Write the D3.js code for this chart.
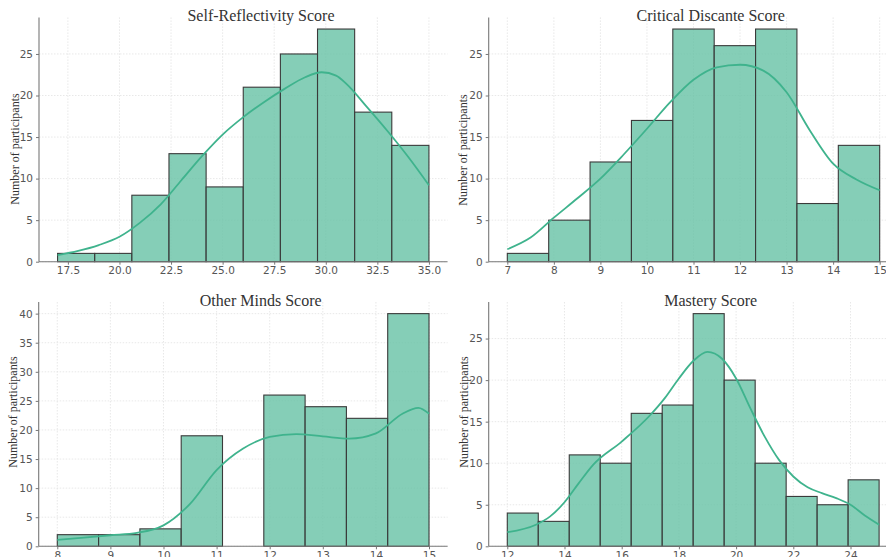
<!DOCTYPE html>
<html>
<head>
<meta charset="utf-8">
<script src="https://cdn.jsdelivr.net/npm/d3@7"></script>
<style>
  html, body { margin: 0; padding: 0; background: #fff; }
  svg { display: block; overflow: hidden; }
</style>
</head>
<body>
<div id="chart"></div>
<script>
// --- data ---
const srCounts = [1, 1, 8, 13, 9, 21, 25, 28, 18, 14];
const srRange = [17, 35];
const srXTicks = [17.5, 20, 22.5, 25, 27.5, 30, 32.5, 35];
const srYTicks = [0, 5, 10, 15, 20, 25];
const srKde = [[17, 0.8], [18, 1.3], [19, 2.0], [20, 3.0], [21, 4.7], [22, 6.9], [23, 9.8], [24, 12.7],
  [25, 15.3], [26, 17.4], [27, 19.2], [28, 20.8], [29, 22.2], [29.8, 22.8], [30.5, 22.4], [31, 21.4],
  [32, 18.6], [33, 15.7], [34, 12.6], [35, 9.2]];

const cdCounts = [1, 5, 12, 17, 28, 26, 28, 7, 14];
const cdRange = [7, 15];
const cdXTicks = [7, 8, 9, 10, 11, 12, 13, 14, 15];
const cdYTicks = [0, 5, 10, 15, 20, 25];
const cdKde = [[7, 1.5], [7.5, 2.9], [8, 5.3], [8.5, 7.6], [9, 10.0], [9.5, 12.9], [10, 16.0], [10.5, 19.2],
  [11, 21.9], [11.5, 23.4], [12, 23.7], [12.5, 23.0], [13, 20.4], [13.5, 15.8], [14, 11.8], [14.5, 9.9], [15, 8.6]];

const omCounts = [2, 2, 3, 19, 0, 26, 24, 22, 40];
const omRange = [8, 15];
const omXTicks = [8, 9, 10, 11, 12, 13, 14, 15];
const omYTicks = [0, 5, 10, 15, 20, 25, 30, 35, 40];
const omKde = [[8, 1.1], [8.5, 1.5], [9, 1.9], [9.5, 2.3], [10, 3.6], [10.5, 7.3], [11, 13.1], [11.5, 16.8],
  [12, 18.8], [12.5, 19.3], [13, 18.9], [13.5, 18.5], [14, 19.4], [14.5, 22.8], [14.8, 23.8], [15, 22.8]];

const maCounts = [4, 3, 11, 10, 16, 17, 28, 20, 10, 6, 5, 8];
const maRange = [12, 25];
const maXTicks = [12, 14, 16, 18, 20, 22, 24];
const maYTicks = [0, 5, 10, 15, 20, 25];
const maKde = [[12, 1.7], [13, 2.6], [13.5, 3.6], [14, 5.3], [14.5, 7.6], [15, 9.8], [16, 12.6], [17, 15.8],
  [17.5, 17.8], [18, 20.2], [18.5, 22.3], [19, 23.4], [19.5, 22.6], [20, 20.2], [20.5, 16.6], [21, 13.2],
  [21.5, 10.4], [22, 8.4], [22.5, 7.1], [23, 6.4], [23.5, 5.8], [24, 5.0], [24.5, 3.7], [25, 2.6]];

const titles = ["Self-Reflectivity Score", "Critical Discante Score", "Other Minds Score", "Mastery Score"];
const yLabel = "Number of participants";

const W = 886, H = 557;
const barFill = "#66c2a5";
const lineColor = "#3fb38d";

const svg = d3.select("#chart").append("svg")
  .attr("width", W).attr("height", H);

const panels = [
  { title: titles[0], counts: srCounts, range: srRange, xTicks: srXTicks, yTicks: srYTicks, kde: srKde,
    fmt: d3.format(".1f"), left: 39, right: 447.5, top: 17.4, bottom: 261.7, labelX: 16, labelY: 149 },
  { title: titles[1], counts: cdCounts, range: cdRange, xTicks: cdXTicks, yTicks: cdYTicks, kde: cdKde,
    fmt: d3.format("d"), left: 488.7, right: 898.3, top: 17.4, bottom: 261.7, labelX: 464, labelY: 150 },
  { title: titles[2], counts: omCounts, range: omRange, xTicks: omXTicks, yTicks: omYTicks, kde: omKde,
    fmt: d3.format("d"), left: 38.7, right: 447.6, top: 302, bottom: 546.3, labelX: 14, labelY: 412 },
  { title: titles[3], counts: maCounts, range: maRange, xTicks: maXTicks, yTicks: maYTicks, kde: maKde,
    fmt: d3.format("d"), left: 488.7, right: 897.7, top: 302, bottom: 546.3, labelX: 465, labelY: 412 }
];

panels.forEach(p => {
  const [lo, hi] = p.range;
  const pad = (hi - lo) * 0.05;
  const x = d3.scaleLinear().domain([lo - pad, hi + pad]).range([p.left, p.right]);
  const ymax = d3.max(p.counts) * 1.05;
  const y = d3.scaleLinear().domain([0, ymax]).range([p.bottom, p.top]);

  const binW = (hi - lo) / p.counts.length;
  const bins = p.counts.map((c, i) => ({ x0: lo + i * binW, x1: lo + (i + 1) * binW, c }));

  const g = svg.append("g");

  // grid
  g.append("g").selectAll("line").data(p.xTicks).enter().append("line")
    .attr("x1", d => x(d)).attr("x2", d => x(d))
    .attr("y1", p.top).attr("y2", p.bottom)
    .attr("stroke", "#e2e2e2").attr("stroke-width", 0.8).attr("stroke-dasharray", "1.5,1.5");
  g.append("g").selectAll("line").data(p.yTicks).enter().append("line")
    .attr("x1", p.left).attr("x2", p.right)
    .attr("y1", d => y(d)).attr("y2", d => y(d))
    .attr("stroke", "#e2e2e2").attr("stroke-width", 0.8).attr("stroke-dasharray", "1.5,1.5");

  // bars
  g.append("g").selectAll("rect").data(bins.filter(b => b.c > 0)).enter().append("rect")
    .attr("x", d => x(d.x0))
    .attr("y", d => y(d.c))
    .attr("width", d => x(d.x1) - x(d.x0))
    .attr("height", d => y(0) - y(d.c))
    .attr("fill", barFill).attr("fill-opacity", 0.8)
    .attr("stroke", "#3a3a3a").attr("stroke-width", 1.1);

  // kde line
  g.append("path")
    .datum(p.kde)
    .attr("d", d3.line().x(d => x(d[0])).y(d => y(d[1])).curve(d3.curveMonotoneX))
    .attr("fill", "none").attr("stroke", lineColor).attr("stroke-width", 1.8);

  // axes
  const xAxis = g.append("g")
    .attr("transform", `translate(0,${p.bottom})`)
    .call(d3.axisBottom(x).tickValues(p.xTicks).tickFormat(p.fmt).tickSize(3).tickPadding(2));
  const yAxis = g.append("g")
    .attr("transform", `translate(${p.left},0)`)
    .call(d3.axisLeft(y).tickValues(p.yTicks).tickSize(3).tickPadding(3));
  [xAxis, yAxis].forEach(a => {
    a.select(".domain").attr("stroke", "#777").attr("stroke-width", 1.1);
    a.selectAll(".tick line").attr("stroke", "#777");
    a.selectAll(".tick text").attr("fill", "#555")
      .attr("font-family", "DejaVu Sans, sans-serif").attr("font-size", 10.5);
  });
  xAxis.select(".domain").attr("d", `M${p.left},0H${p.right}`);
  yAxis.select(".domain").attr("d", `M0,${p.bottom}V${p.top}`);

  // title
  g.append("text")
    .attr("x", p.left + 222).attr("y", p.top + 3.5)
    .attr("text-anchor", "middle")
    .attr("font-family", "Liberation Serif, serif").attr("font-size", 16)
    .attr("fill", "#333")
    .text(p.title);

  // y label
  g.append("text")
    .attr("transform", `translate(${p.labelX},${p.labelY}) rotate(-90)`)
    .attr("text-anchor", "middle").attr("dominant-baseline", "middle")
    .attr("font-family", "Liberation Serif, serif").attr("font-size", 12)
    .attr("fill", "#333")
    .text(yLabel);
});
</script>
</body>
</html>
